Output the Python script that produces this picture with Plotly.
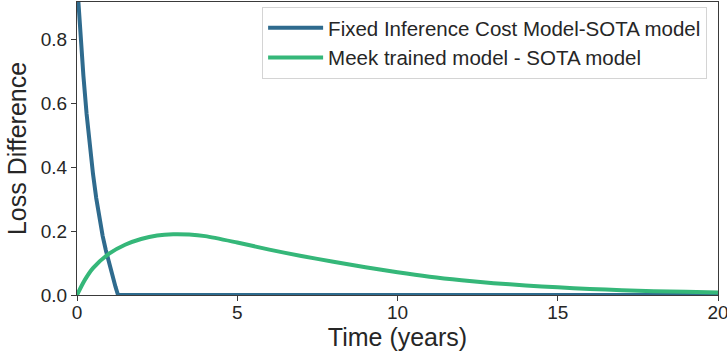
import plotly.graph_objects as go

# Fixed inference cost model minus SOTA model
fixed_t = [0.0, 0.1, 0.2, 0.3, 0.4, 0.5, 0.6, 0.7, 0.8, 0.9, 1.0, 1.1, 1.2, 1.28, 20.0]
fixed_loss = [0.98, 0.823, 0.685, 0.566, 0.464, 0.378, 0.303, 0.238, 0.185,
              0.140, 0.098, 0.060, 0.026, 0.0, 0.0]

# Meek trained model minus SOTA model
meek_t = [0, 0.25, 0.5, 1, 1.5, 2, 2.5, 3, 3.5, 4, 5, 6, 7, 8, 9, 10,
          11, 12, 13, 14, 15, 16, 17, 18, 19, 20]
meek_loss = [0.0, 0.048, 0.084, 0.129, 0.157, 0.175, 0.186, 0.190, 0.189,
             0.184, 0.164, 0.142, 0.122, 0.104, 0.087, 0.071, 0.057, 0.046,
             0.037, 0.030, 0.024, 0.019, 0.015, 0.012, 0.010, 0.008]

x_ticks = [0, 5, 10, 15, 20]
y_ticks = [0.0, 0.2, 0.4, 0.6, 0.8]

FONT = "Liberation Sans, Arial, sans-serif"
TEXT = "#262626"
SPINE = "#3a3a3a"

fig = go.Figure()
fig.add_trace(go.Scatter(
    x=fixed_t, y=fixed_loss, mode="lines",
    name="Fixed Inference Cost Model-SOTA model",
    line=dict(color="#2f6b8e", width=4),
))
fig.add_trace(go.Scatter(
    x=meek_t, y=meek_loss, mode="lines",
    name="Meek trained model - SOTA model",
    line=dict(color="#35b779", width=4, shape="spline", smoothing=0.8),
))

axis_common = dict(
    showline=True, linecolor=SPINE, linewidth=1.25, mirror=True,
    ticks="outside", ticklen=5, tickwidth=1.25, tickcolor=SPINE,
    showgrid=False, zeroline=False, automargin=False,
    ticklabeloverflow="allow",
    tickfont=dict(family=FONT, size=19, color=TEXT),
)

fig.update_layout(
    width=727, height=354,
    margin=dict(l=77, r=9, t=2, b=59),
    paper_bgcolor="white", plot_bgcolor="white",
    font=dict(family=FONT, color=TEXT),
    xaxis=dict(
        range=[0, 20], tickvals=x_ticks, ticktext=[str(v) for v in x_ticks],
        ticklabelstandoff=-5,
        title=dict(text="Time (years)", font=dict(family=FONT, size=25, color=TEXT), standoff=2),
        **axis_common,
    ),
    yaxis=dict(
        range=[0, 0.916], tickvals=y_ticks, ticktext=[f"{v:.1f}" for v in y_ticks],
        title=dict(text="Loss Difference", font=dict(family=FONT, size=25, color=TEXT), standoff=6),
        **axis_common,
    ),
    legend=dict(
        x=0.983, y=0.983, xanchor="right", yanchor="top",
        bgcolor="rgba(255,255,255,0.8)", bordercolor="#d4d4d4", borderwidth=1,
        font=dict(family=FONT, size=20.5, color=TEXT),
        tracegroupgap=0, itemwidth=55,
    ),
    showlegend=True,
)

fig.write_html("out.html")
